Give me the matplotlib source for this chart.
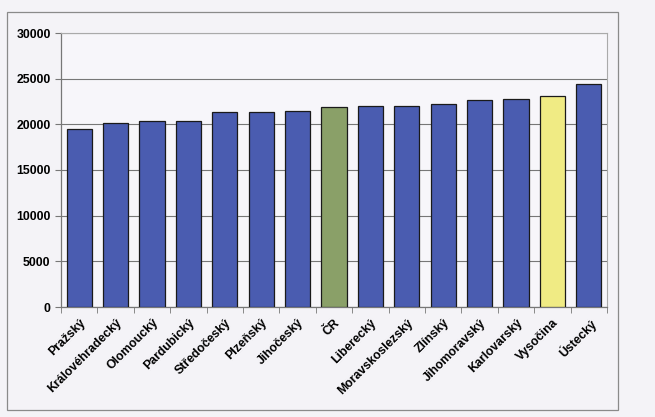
import matplotlib.pyplot as plt
import matplotlib.patches as patches
import numpy as np

kraje = ["Pražský", "Královéhradecký", "Olomoucký", "Pardubický", "Středočeský",
         "Plzeňský", "Jihočeský", "ČR", "Liberecký", "Moravskoslezský", "Zlínský",
         "Jihomoravský", "Karlovarský", "Vysočina", "Ústecký"]
hodnoty = [19450, 20180, 20350, 20360, 21340, 21390, 21450, 21930, 22000,
           22050, 22270, 22620, 22740, 23140, 24420]
barvy = ["#4a5cb0"] * 7 + ["#8aa068"] + ["#4a5cb0"] * 5 + ["#f0eb84"] + ["#4a5cb0"]

plt.rcParams['font.family'] = ['Liberation Sans', 'DejaVu Sans']

fig = plt.figure(figsize=(6.55, 4.17), dpi=100)
fig.patch.set_facecolor("#f4f3f7")
# ramecek grafu
fig.add_artist(patches.Rectangle((7 / 655, 1 - 410 / 417), 611 / 655, 398 / 417,
                                 transform=fig.transFigure, fill=False,
                                 edgecolor="#8a8a8a", linewidth=0.9))

ax = fig.add_axes([61 / 655, 1 - 307 / 417, 546 / 655, 274 / 417])
ax.set_facecolor("#f7f6fa")
x = np.arange(len(kraje))
ax.bar(x, hodnoty, width=0.69, color=barvy, edgecolor="#1a1a1a", linewidth=0.9, zorder=3)

ax.set_xlim(-0.5, len(kraje) - 0.5)
ax.set_ylim(0, 30000)
ax.set_yticks(range(0, 30001, 5000))
ax.yaxis.grid(True, color="#777777", linewidth=0.8, zorder=0)
ax.tick_params(axis="y", labelsize=8.8, length=4, color="#777777")
for t in ax.get_yticklabels():
    t.set_fontweight("bold")

ax.set_xticks(x)
ax.set_xticklabels(kraje, rotation=45, ha="right", rotation_mode="anchor",
                   fontsize=8.8, fontweight="bold")
ax.set_xticks(np.arange(-0.5, len(kraje), 1), minor=True)
ax.tick_params(axis="x", which="major", length=0, pad=7)
ax.tick_params(axis="x", which="minor", length=4, color="#777777")

for s in ["top", "right"]:
    ax.spines[s].set_color("#aaaaaa")
    ax.spines[s].set_linewidth(0.8)
for s in ["left", "bottom"]:
    ax.spines[s].set_color("#777777")
    ax.spines[s].set_linewidth(0.9)

plt.savefig("out.png", dpi=100, facecolor=fig.get_facecolor())
